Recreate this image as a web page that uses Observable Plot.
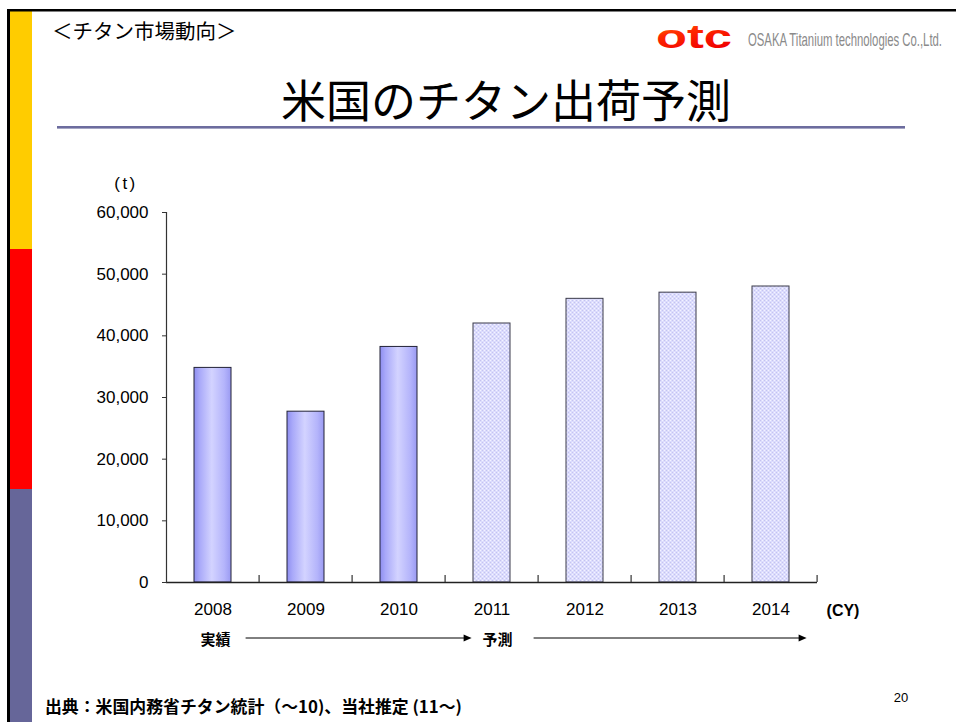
<!DOCTYPE html>
<html>
<head>
<meta charset="utf-8">
<script src="https://cdn.jsdelivr.net/npm/d3@7"></script>
<script src="https://cdn.jsdelivr.net/npm/@observablehq/plot@0.6"></script>
<style>
  html, body { margin: 0; padding: 0; background: #fff; }
  #slide { position: relative; width: 956px; height: 722px; overflow: hidden; background: #fff; }
  #deco { position: absolute; left: 0; top: 0; }
  #chart { position: absolute; left: 0; top: 170px; }
</style>
</head>
<body>
<div id="slide">
  <svg id="deco" width="956" height="722" xmlns="http://www.w3.org/2000/svg">
    <defs>
      <linearGradient id="logoGrad" x1="0" y1="0" x2="0.4" y2="1">
        <stop offset="0" stop-color="#ff9a00"/>
        <stop offset="0.45" stop-color="#ff2a00"/>
        <stop offset="1" stop-color="#f00000"/>
      </linearGradient>
    </defs>
    <!-- left colour strip and slide border -->
    <rect x="10" y="11" width="22" height="238" fill="#ffcc00"/>
    <rect x="10" y="249" width="22" height="240" fill="#ff0000"/>
    <rect x="10" y="489" width="22" height="233" fill="#666699"/>
    <rect x="7" y="9" width="3" height="713" fill="#000"/>
    <rect x="7" y="9" width="949" height="2.5" fill="#000"/>
    <!-- headings -->
    <text x="52" y="30" font-family="'Noto Sans CJK JP', sans-serif" font-size="20.5" dominant-baseline="central" fill="#000">＜チタン市場動向＞</text>
    <text x="506" y="98" font-family="'Noto Sans CJK JP', sans-serif" font-size="45" text-anchor="middle" dominant-baseline="central" fill="#000">米国のチタン出荷予測</text>
    <rect x="57" y="126" width="848" height="2.6" fill="#6c6c9e"/>
    <!-- logo -->
    <text x="656" y="36" font-family="'Liberation Sans', Arial, sans-serif" font-weight="bold" font-size="33" textLength="76" lengthAdjust="spacingAndGlyphs" dominant-baseline="central" fill="url(#logoGrad)">otc</text>
    <g transform="translate(748,39) scale(1,1.55)">
      <text x="0" y="0" font-family="'Liberation Sans Narrow','Liberation Sans', Arial, sans-serif" font-size="12" textLength="194" lengthAdjust="spacingAndGlyphs" dominant-baseline="central" fill="#8a8a8a">OSAKA Titanium technologies Co.,Ltd.</text>
    </g>
    <!-- footer -->
    <text x="45" y="706" font-family="'Noto Sans CJK JP', sans-serif" font-weight="bold" font-size="16.5" textLength="417" lengthAdjust="spacingAndGlyphs" dominant-baseline="central" fill="#000">出典：米国内務省チタン統計（～10)、当社推定 (11～)</text>
    <text x="901" y="697" font-family="'Liberation Sans', Arial, sans-serif" font-size="13" text-anchor="middle" dominant-baseline="central" fill="#000">20</text>
  </svg>
  <div id="chart"></div>
</div>
<script>
// ---- data ----
const years = ["2008", "2009", "2010", "2011", "2012", "2013", "2014"];
const shipments = [34800, 27700, 38200, 42000, 46000, 47000, 48000];
const kinds = ["実績", "実績", "実績", "予測", "予測", "予測", "予測"];
const yTicks = [0, 10000, 20000, 30000, 40000, 50000, 60000];
const yUnit = "(t)";
const xUnit = "(CY)";
const actualLabel = "実績";
const forecastLabel = "予測";

const table = years.map((year, i) => ({year, value: shipments[i], kind: kinds[i]}));
const actual = table.filter(d => d.kind === actualLabel);
const forecast = table.filter(d => d.kind === forecastLabel);

const padInner = 0.6;

// defs for gradient / pattern fills
function defsMark() {
  const g = d3.create("svg:g");
  const defs = g.append("defs");
  const grad = defs.append("linearGradient").attr("id", "gradActual")
    .attr("x1", 0).attr("y1", 0).attr("x2", 1).attr("y2", 0);
  [[0, "#8e8ef0"], [0.15, "#a9a9f9"], [0.48, "#d3d3ff"], [0.82, "#b4b4fb"], [1, "#9a9af2"]]
    .forEach(([o, c]) => grad.append("stop").attr("offset", o).attr("stop-color", c));
  const pat = defs.append("pattern").attr("id", "patForecast")
    .attr("patternUnits", "userSpaceOnUse").attr("width", 4).attr("height", 4);
  pat.append("rect").attr("width", 4).attr("height", 4).attr("fill", "#dcdcfd");
  pat.append("rect").attr("x", 0).attr("y", 0).attr("width", 1).attr("height", 1).attr("fill", "#f4f4ff");
  pat.append("rect").attr("x", 2).attr("y", 2).attr("width", 1).attr("height", 1).attr("fill", "#f4f4ff");
  pat.append("rect").attr("x", 2).attr("y", 0).attr("width", 1).attr("height", 1).attr("fill", "#c4c4ef");
  pat.append("rect").attr("x", 0).attr("y", 2).attr("width", 1).attr("height", 1).attr("fill", "#c4c4ef");
  return g.node();
}

// boundary ticks on x axis, period arrows and unit labels
function annotations(index, scales, values, dims) {
  const x = scales.x;
  const step = x(years[1]) - x(years[0]);
  const bw = step * (1 - padInner);
  const center = yr => x(yr) + bw / 2;
  const y0 = dims.height - dims.marginBottom;
  const g = d3.create("svg:g");
  years.forEach(yr => {
    const bx = x(yr) + bw + (step - bw) / 2;
    g.append("line").attr("x1", bx).attr("x2", bx).attr("y1", y0).attr("y2", y0 - 7)
      .attr("stroke", "#333").attr("stroke-width", 1.2);
  });
  const font = "'Noto Sans CJK JP', sans-serif";
  const label = (txt, cx, anchor) => g.append("text").attr("x", cx).attr("y", y0 + 56)
    .attr("text-anchor", anchor).attr("dominant-baseline", "central")
    .attr("font-family", font).attr("font-weight", "bold").attr("font-size", 15).text(txt);
  const arrow = (xa, xb) => {
    const ya = y0 + 56;
    g.append("line").attr("x1", xa).attr("x2", xb - 7).attr("y1", ya).attr("y2", ya)
      .attr("stroke", "#000").attr("stroke-width", 1);
    g.append("path").attr("d", `M${xb},${ya}L${xb - 8},${ya - 3.5}L${xb - 8},${ya + 3.5}Z`).attr("fill", "#000");
  };
  label(actualLabel, center(years[0]) + 3, "middle");
  arrow(center(years[0]) + 33, center(years[3]) - 20);
  label(forecastLabel, center(years[3]) + 6, "middle");
  arrow(center(years[3]) + 42, center(years[6]) + 36);
  g.append("text").attr("x", dims.width - dims.marginRight + 26).attr("y", y0 + 28)
    .attr("dominant-baseline", "central").attr("font-family", "'Liberation Sans', Arial, sans-serif")
    .attr("font-weight", "bold").attr("font-size", 16).text(xUnit);
  g.append("text").attr("x", dims.marginLeft - 40).attr("y", dims.marginTop - 29)
    .attr("text-anchor", "middle").attr("dominant-baseline", "central")
    .attr("font-family", "'Liberation Sans', Arial, sans-serif").attr("font-size", 17)
    .attr("letter-spacing", 2.5).text(yUnit);
  return g.node();
}

const chart = Plot.plot({
  width: 956,
  height: 490,
  marginLeft: 166,
  marginRight: 139,
  marginTop: 42,
  marginBottom: 78,
  style: {
    fontFamily: "'Liberation Sans', Arial, sans-serif",
    fontSize: "17px",
    color: "#000",
    background: "transparent",
    overflow: "visible"
  },
  x: {domain: years, paddingInner: padInner, paddingOuter: padInner / 2, label: null},
  y: {domain: [0, 60000], label: null},
  marks: [
    defsMark,
    Plot.barY(actual, {x: "year", y: "value", fill: "url(#gradActual)", stroke: "#222236", strokeWidth: 1}),
    Plot.barY(forecast, {x: "year", y: "value", fill: "url(#patForecast)", stroke: "#3a3a4a", strokeWidth: 1}),
    Plot.ruleY([0], {stroke: "#222", strokeWidth: 1.6}),
    Plot.frame({anchor: "left", stroke: "#333", strokeWidth: 1.2}),
    Plot.axisY({ticks: yTicks, tickFormat: d3.format(","), tickSize: 4, tickPadding: 14, label: null, stroke: "#333"}),
    Plot.axisX({tickSize: 0, tickPadding: 20, label: null}),
    annotations
  ]
});
document.getElementById("chart").appendChild(chart);
</script>
</body>
</html>
